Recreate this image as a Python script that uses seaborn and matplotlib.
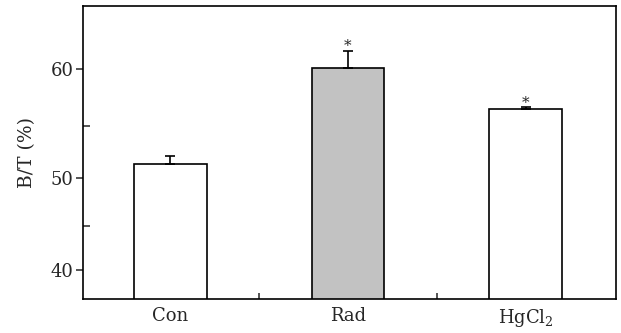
import numpy as np
import pandas as pd
import matplotlib
matplotlib.use("Agg")
import matplotlib.pyplot as plt
import seaborn as sns

categories = ["Con", "Rad", "HgCl$_2$"]
values = [51.4, 60.1, 56.5]
errors = [0.8, 1.4, 0.2]
significant = [False, True, True]
fill_colors = ["white", "#c2c2c2", "white"]
major_ticks = [40, 50, 60]
minor_ticks = [45, 55]

sns.set_theme(style="ticks")
plt.rcParams["font.family"] = ["DejaVu Serif"]
plt.rcParams["mathtext.fontset"] = "dejavuserif"

df = pd.DataFrame({"group": categories, "value": values})

fig = plt.figure(figsize=(6.21, 3.33), dpi=100)
ax = fig.add_axes([0.1337, 0.102, 0.858, 0.880])

sns.barplot(data=df, x="group", y="value", hue="group", order=categories,
            hue_order=categories, palette=fill_colors, dodge=False, legend=False,
            width=0.41, edgecolor="black", linewidth=1.2, errorbar=None, ax=ax)

xs = np.arange(len(categories))
ax.errorbar(xs, values, yerr=[np.zeros(len(errors)), errors], fmt="none",
            ecolor="black", elinewidth=1.2, capsize=3.8, capthick=1.2, zorder=3)
for x, v, e, s in zip(xs, values, errors, significant):
    if s:
        ax.annotate("*", xy=(x, v + e), xytext=(0, -2), textcoords="offset points",
                    ha="center", va="bottom", fontsize=11)

a = 0.0183
ax.set_yscale("function", functions=(lambda y: np.exp(a * y), lambda f: np.log(np.clip(f, 1e-9, None)) / a))
ax.set_ylim(36.35, 65.0)
ax.set_xlim(-0.49, 2.506)

ax.set_yticks(major_ticks)
ax.set_yticklabels([str(t) for t in major_ticks])
ax.set_yticks(minor_ticks, minor=True)
ax.yaxis.set_minor_formatter(matplotlib.ticker.NullFormatter())
ax.tick_params(axis="y", which="major", direction="out", length=5, width=1.1, labelsize=13, pad=2)
ax.tick_params(axis="y", which="minor", direction="in", length=5, width=1.1)

ax.set_xticks(xs)
ax.set_xticklabels(categories)
ax.set_xticks([0.5, 1.5], minor=True)
ax.tick_params(axis="x", which="major", length=0, labelsize=13, pad=6)
ax.tick_params(axis="x", which="minor", direction="in", length=4, width=1.1)

ax.set_xlabel("")
ax.set_ylabel("B/T (%)", fontsize=13.5, labelpad=10)
for sp in ax.spines.values():
    sp.set_visible(True)
    sp.set_linewidth(1.2)
    sp.set_color("black")

fig.savefig("out.png", dpi=100)
